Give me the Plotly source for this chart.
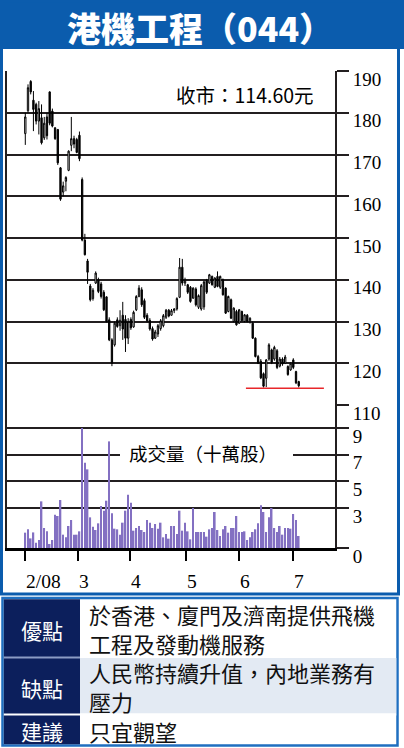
import plotly.graph_objects as go

# ---------------- data ----------------
day_index = list(range(102))
open_ = [175, 180.5, 187.5, 183, 182, 178, 178.8, 174, 179, 185,
         180.4, 176.4, 176, 166.8, 161, 163.6, 166.2, 172.2, 173.8, 173.6,
         174.6, 164, 149.5, 144.5, 138.5, 135.5, 139.2, 140, 139, 137,
         135.9, 130.4, 125.6, 124.4, 130.4, 129, 131.5, 130.5, 126, 130.5,
         128.7, 132.8, 136, 137.6, 135, 131.5, 130.3, 128.3, 126, 127,
         128.3, 129, 131, 132.7, 131.5, 132.6, 133, 135.8, 143, 139.2,
         138.8, 138.2, 135.6, 137.8, 133.4, 133, 133.5, 139.8, 139.2, 140.8,
         138.2, 140.8, 138.2, 140, 138, 132.4, 135.2, 130, 132.4, 129.6,
         132.4, 130, 131.5, 130, 129.6, 126, 121.6, 120.5, 117.5, 116.4,
         121, 123.2, 121, 123, 119.3, 121, 120, 119.2, 118.4, 120.8,
         118, 115.6]
high = [180, 186.8, 187.8, 185.2, 182.4, 182.8, 182, 179, 180, 185.1,
        181, 176.5, 176, 167, 163.5, 164.8, 171, 179, 174.5, 174,
        175.5, 164.5, 151, 145, 139, 138, 142, 140.5, 139.5, 137.5,
        136, 131, 126, 130, 131, 132.7, 134.7, 131.5, 130.8, 131,
        132.6, 136.3, 138.7, 138.2, 135.5, 132, 130.8, 128.8, 128, 129.4,
        130.6, 131.8, 133, 133, 133, 133.2, 135.8, 145.2, 145, 140.5,
        139, 138.5, 138.2, 138.2, 136.5, 139, 139.8, 140.2, 141.4, 141,
        140.6, 142, 141, 140.3, 138.2, 136.2, 135.5, 133.4, 132.8, 133,
        132.6, 131.8, 131.8, 131, 130, 126.2, 122, 121, 117.8, 121,
        124.8, 123.5, 124.2, 123.4, 121.5, 121.4, 122, 119.5, 120.2, 121.2,
        118.2, 115.8]
low = [172.3, 180, 184.4, 175.6, 177.2, 174.8, 172.4, 173.5, 173.6, 177,
       176.5, 173.5, 167.5, 158.9, 160, 161.2, 166, 170.8, 171.5, 170.3,
       168.4, 149.2, 145.8, 139, 134.8, 135, 139, 136.8, 135.5, 132.5,
       129.8, 125.3, 119.3, 124, 128.5, 127.8, 125.6, 122.7, 124.6, 128,
       128.5, 132.5, 135.8, 133.5, 130.6, 129.8, 127.8, 125.4, 125.8, 126.3,
       127.8, 128.6, 130.6, 131, 131.4, 132, 132.6, 135.6, 138.6, 138.5,
       136.6, 134.5, 135.4, 133.6, 133, 132.6, 132.8, 136.6, 139, 138.6,
       138, 138.2, 137.8, 136.2, 131.8, 132.2, 130.6, 129.8, 129, 129.4,
       130, 129.8, 129.8, 129.5, 125.8, 121.4, 119.8, 116.2, 114.2, 114.3,
       120.6, 119.8, 120.6, 118.6, 119, 119.4, 119.8, 117, 118.2, 118.6,
       115, 114.2]
close = [179, 186, 185, 180.8, 178, 181, 172.8, 177.5, 174.5, 177.5,
         176.8, 173.8, 168, 159.3, 162.5, 164.5, 170.8, 173.8, 172.5, 170.5,
         169, 149.5, 146, 141.8, 135.2, 137.5, 141.6, 137.2, 136, 132.8,
         130, 125.6, 120, 129.6, 128.8, 130.3, 128.2, 126, 130, 128.5,
         132.2, 136, 138, 134, 131, 130.2, 128.2, 125.8, 127.5, 129,
         130.2, 131.4, 132.7, 131.3, 132.6, 133, 135.5, 143, 139.2, 140,
         137, 134.8, 138, 134, 136.2, 138.6, 139.5, 137, 141.2, 138.8,
         140.4, 138.4, 140.8, 136.4, 132, 136, 130.8, 133.2, 129.2, 132.8,
         130.2, 131.6, 130, 130.8, 126, 121.6, 120, 116.5, 114.5, 120.8,
         124.4, 120.2, 123.8, 119, 121, 119.8, 121.5, 117.3, 120, 119,
         115.3, 114.6]
volume = [1.15, 1.4, 0.72, 1.17, 0.4, 0.6, 3.5, 1.5, 1.25, 0.3,
          0.6, 2.5, 2.4, 3.6, 1.0, 0.8, 1.65, 2.1, 1.0, 1.0,
          1.25, 9.0, 6.4, 5.9, 2.3, 1.6, 1.35, 1.85, 3.15, 2.8,
          3.55, 8.0, 2.6, 1.45, 1.4, 1.0, 1.9, 2.8, 4.0, 3.4,
          1.3, 1.5, 1.65, 1.35, 1.2, 2.1, 1.9, 1.5, 1.8, 1.45,
          1.9, 0.8, 1.05, 0.7, 1.65, 1.65, 1.05, 2.8, 1.3, 1.9,
          1.25, 0.65, 3.0, 1.2, 1.2, 1.2, 1.2, 0.85, 1.4, 1.5,
          2.7, 1.35, 0.9, 1.4, 1.65, 1.15, 1.5, 1.5, 2.4, 1.2,
          1.2, 1.25, 0.6, 0.8, 1.2, 1.4, 1.85, 3.2, 2.7, 1.2,
          2.3, 3.0, 1.5, 1.2, 1.65, 1.0, 1.5, 1.5, 1.45, 2.55,
          2.1, 0.9]
month_ticks = [0, 19.5, 38.5, 59.5, 79, 99]
month_labels = ["2/08", "3", "4", "5", "6", "7"]
price_ticks = [110, 120, 130, 140, 150, 160, 170, 180, 190]
volume_ticks = [0, 3, 5, 7, 9]
support_x = [81.5, 110.3]
support_y = [114.0, 114.0]

title_text = "港機工程（044）"
close_text = "收市：114.60元"
volume_title = "成交量（十萬股）"
table_labels = ["優點", "缺點", "建議"]
table_lines = [["於香港、廈門及濟南提供飛機", "工程及發動機服務"],
               ["人民幣持續升值，內地業務有", "壓力"],
               ["只宜觀望"]]

# ---------------- geometry helpers ----------------
W, H = 404, 748
def fx(x):
    return x / W
def fy(y):
    return 1 - y / H

BLUE = "#0b5cad"
NAVY = "#0c1f5c"
INK = "#231f20"
SERIF = "Liberation Serif"
CJK = "Noto Sans CJK TC"

fig = go.Figure()
fig.add_trace(go.Candlestick(
    x=day_index, open=open_, high=high, low=low, close=close,
    increasing=dict(line=dict(color="black", width=1), fillcolor="white"),
    decreasing=dict(line=dict(color="black", width=1), fillcolor="black"),
    whiskerwidth=0, showlegend=False, xaxis="x", yaxis="y"))
fig.add_trace(go.Scatter(x=support_x, y=support_y, mode="lines",
                         line=dict(color="#e8262a", width=1.6),
                         showlegend=False, xaxis="x", yaxis="y"))
fig.add_trace(go.Bar(x=day_index, y=volume, width=0.6,
                     marker=dict(color="#8370c2", line=dict(width=0)),
                     showlegend=False, xaxis="x", yaxis="y2"))

axis_font = dict(family=SERIF, size=19.5, color="black")
ytick_font = dict(family=SERIF, size=19, color="black")
fig.update_layout(
    template="none",
    width=W, height=H, margin=dict(l=0, r=0, t=0, b=0, pad=0),
    autosize=False,
    paper_bgcolor="white", plot_bgcolor="white", showlegend=False,
    xaxis=dict(domain=[fx(7), fx(335)], range=[-6.76, 114.4], anchor="y2",
               tickvals=month_ticks, ticktext=[""] * len(month_ticks),
               ticks="outside", ticklen=10, tickwidth=2, tickcolor="black",
               showgrid=False, zeroline=False, showline=True,
               linecolor="black", linewidth=2.5, automargin=False,
               rangeslider=dict(visible=False), fixedrange=True),
    yaxis=dict(domain=[fy(405), fy(71)], range=[110, 190], anchor="x",
               side="right", tickvals=price_ticks, automargin=False,
               ticks="outside", ticklen=12, tickwidth=2, tickcolor=INK,
               showgrid=True, gridcolor=INK, gridwidth=1.6,
               showline=True, linecolor=INK, linewidth=2, mirror=True,
               zeroline=False, tickfont=ytick_font,
               ticklabelshift=8, ticklabelstandoff=0),
    yaxis2=dict(domain=[fy(548), fy(405)], range=[0, 10.73], anchor="x",
                side="right", tickvals=volume_ticks, automargin=False,
                ticks="outside", ticklen=12, tickwidth=2, tickcolor=INK,
                showgrid=True, gridcolor=INK, gridwidth=1.6,
                showline=True, linecolor=INK, linewidth=2, mirror=True,
                zeroline=False, tickfont=ytick_font,
                ticklabelshift=8, ticklabelstandoff=0),
)

shapes = [
    dict(type="rect", xref="paper", yref="paper", x0=0, x1=1, y0=fy(49), y1=1,
         fillcolor=BLUE, line=dict(width=0), layer="below"),
    dict(type="rect", xref="paper", yref="paper", x0=fx(1.5), x1=fx(398.5),
         y0=fy(594), y1=fy(1), fillcolor="rgba(0,0,0,0)",
         line=dict(color=BLUE, width=3), layer="above"),
    dict(type="rect", xref="paper", yref="paper", x0=fx(120), x1=fx(293),
         y0=fy(458), y1=fy(452), fillcolor="white", line=dict(width=0),
         layer="above"),
    dict(type="rect", xref="paper", yref="paper", x0=fx(2.5), x1=fx(397.5),
         y0=fy(745.5), y1=fy(598), fillcolor="white",
         line=dict(color="#1f6fc0", width=2.5), layer="below"),
    dict(type="rect", xref="paper", yref="paper", x0=fx(80), x1=fx(396.3),
         y0=fy(713.5), y1=fy(658), fillcolor="#e3eaf3", line=dict(width=0),
         layer="below"),
    dict(type="rect", xref="paper", yref="paper", x0=fx(3.8), x1=fx(80),
         y0=fy(744.2), y1=fy(599.3), fillcolor=NAVY, line=dict(width=0),
         layer="below"),
    dict(type="line", xref="paper", yref="paper", x0=fx(3.8), x1=fx(80),
         y0=fy(657.5), y1=fy(657.5), line=dict(color="#8c9cc4", width=2),
         layer="above"),
    dict(type="line", xref="paper", yref="paper", x0=fx(3.8), x1=fx(396.3),
         y0=fy(714.5), y1=fy(714.5), line=dict(color="white", width=2),
         layer="above"),
]
fig.update_layout(shapes=shapes)

ann = []
ann.append(dict(xref="paper", yref="paper", x=fx(200), y=fy(27),
                text=title_text, showarrow=False, xanchor="center",
                yanchor="middle",
                font=dict(family=CJK, size=34, color="white", weight=900)))
ann.append(dict(xref="paper", yref="paper", x=fx(174), y=fy(94),
                text=close_text, showarrow=False, xanchor="left",
                yanchor="middle", font=dict(family=CJK, size=19.5, color="black")))
ann.append(dict(xref="paper", yref="paper", x=fx(127), y=fy(453),
                text=volume_title, showarrow=False, xanchor="left",
                yanchor="middle", font=dict(family=CJK, size=18.5, color="black")))
for tv, tl in zip(month_ticks, month_labels):
    ann.append(dict(xref="x", yref="paper", x=tv, y=fy(581), text=tl,
                    showarrow=False, xanchor="left", yanchor="middle",
                    xshift=-1, font=axis_font))
label_y = [630, 688, 731]
text_y = [628.5, 686.5, 731]
for lab, ly, lines, ty in zip(table_labels, label_y, table_lines, text_y):
    ann.append(dict(xref="paper", yref="paper", x=fx(42), y=fy(ly), text=lab,
                    showarrow=False, xanchor="center", yanchor="middle",
                    font=dict(family=CJK, size=21, color="white")))
    ann.append(dict(xref="paper", yref="paper", x=fx(88), y=fy(ty),
                    text="<br>".join(lines), showarrow=False, xanchor="left",
                    yanchor="middle", align="left", borderpad=0,
                    font=dict(family=CJK, size=22, color="#111111")))
fig.update_layout(annotations=ann)

post = (
    "var de=document.documentElement, b=document.body;"
    "de.style.margin='0';de.style.padding='0';"
    "b.style.margin='0';b.style.padding='0';"
)
fig.write_html("out.html", config={"displayModeBar": False}, post_script=post)
